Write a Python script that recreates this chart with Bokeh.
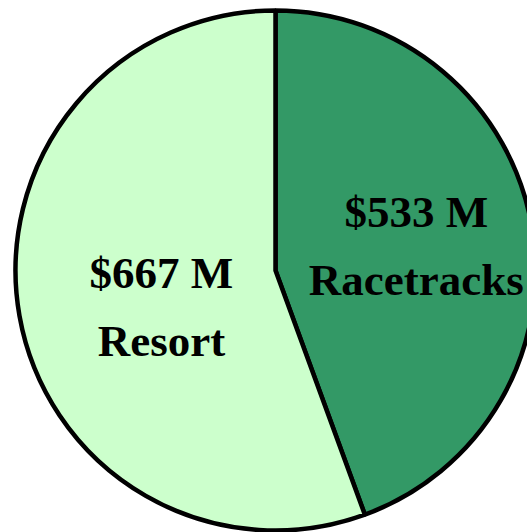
import math
from bokeh.plotting import figure
from bokeh.models import ColumnDataSource, Range1d
from bokeh.core.properties import value
from bokeh.embed import file_html
from bokeh.resources import INLINE

# data
categories = ["Racetracks", "Resort"]
values = [533, 667]
value_labels = ["$533 M", "$667 M"]

# style
colors = ["#339966", "#CCFFCC"]
label_dist = [0.55, 0.46]
label_nudge_deg = [0.0, 7.5]
W, H = 527, 532
cx, cy, R = 275, 262, 260

total = sum(values)
starts, ends, vx, vy = [], [], [], []
ang = math.pi / 2  # start at 12 o'clock, go clockwise
for v, d, nd in zip(values, label_dist, label_nudge_deg):
    sweep = 2 * math.pi * v / total
    end = ang - sweep
    starts.append(end)
    ends.append(ang)
    mid = ang - sweep / 2 + math.radians(nd)
    vx.append(cx + d * R * math.cos(mid))
    vy.append(cy + d * R * math.sin(mid))
    ang = end

src = ColumnDataSource(dict(start=starts, end=ends, color=colors,
                            name=categories, val=value_labels, lx=vx, ly=vy))

p = figure(width=W, height=H, x_range=Range1d(0, W), y_range=Range1d(0, H),
           output_backend="svg", toolbar_location=None, min_border=0)
p.axis.visible = False
p.grid.visible = False
p.outline_line_color = None
p.background_fill_color = "white"

p.wedge(x=cx, y=cy, radius=R, start_angle="start", end_angle="end",
        direction="anticlock", fill_color="color", line_color="black",
        line_width=4.5, source=src)

common = dict(text_font=value("Liberation Serif"), text_font_style="bold",
              text_font_size="45px", text_align="center", text_baseline="middle",
              text_color="black", source=src)
p.text(x="lx", y="ly", text="val", y_offset=-34, **common)
p.text(x="lx", y="ly", text="name", y_offset=34, **common)

open("out.html", "w").write(file_html(p, INLINE))
